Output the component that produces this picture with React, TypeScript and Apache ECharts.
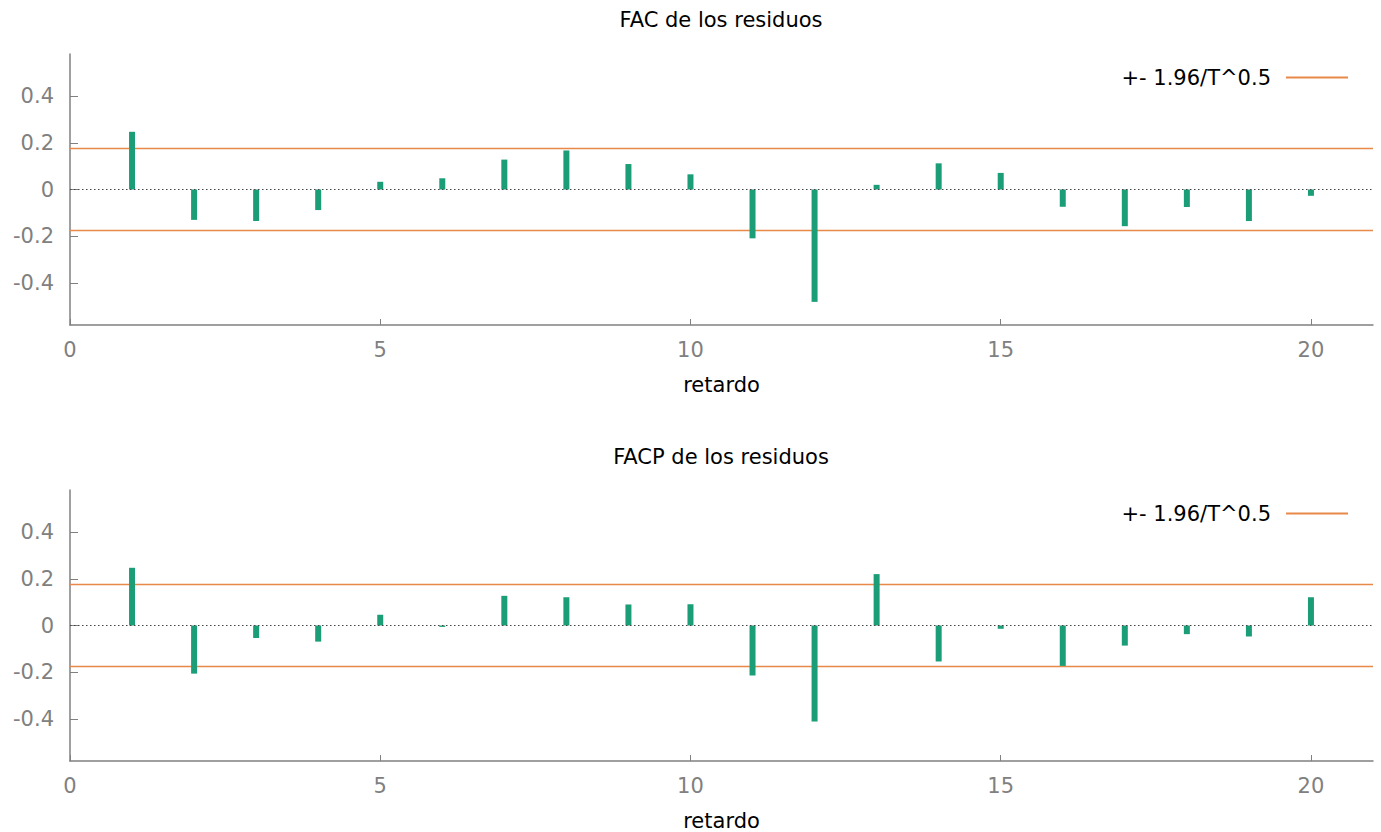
import React, { useEffect, useRef } from "react";
import * as echarts from "echarts";

const lags = [1, 2, 3, 4, 5, 6, 7, 8, 9, 10, 11, 12, 13, 14, 15, 16, 17, 18, 19, 20];
const facValues = [0.247, -0.130, -0.135, -0.088, 0.033, 0.048, 0.128, 0.167, 0.109, 0.065, -0.209, -0.481, 0.020, 0.112, 0.071, -0.074, -0.157, -0.075, -0.135, -0.027];
const facpValues = [0.247, -0.206, -0.053, -0.069, 0.046, -0.006, 0.127, 0.121, 0.090, 0.091, -0.214, -0.411, 0.220, -0.154, -0.014, -0.173, -0.086, -0.037, -0.047, 0.121];
const band = 0.175;
const titles = ["FAC de los residuos", "FACP de los residuos"];
const xName = "retardo";
const bandName = "+- 1.96/T^0.5";
const xTicks = [0, 5, 10, 15, 20];
const yTicks = [-0.4, -0.2, 0, 0.2, 0.4];

const FONT = "DejaVu Sans";
const FS = 21;
const GREEN = "#1b9e77";
const ORANGE = "#e8894a";
const GRAY = "#808080";

export default function App() {
  const ref = useRef<HTMLDivElement>(null);
  useEffect(() => {
    if (!ref.current) return;
    const chart = echarts.init(ref.current, undefined, { renderer: "svg" });
    const grids = [
      { left: 70, right: 8, top: 54, height: 271 },
      { left: 70, right: 8, top: 490, height: 272 },
    ];
    const xAxes = grids.map((_, i) => ({
      type: "value",
      gridIndex: i,
      min: 0,
      max: 21,
      name: xName,
      nameLocation: "middle",
      nameGap: 49,
      nameTextStyle: { fontFamily: FONT, fontSize: FS, color: "#000" },
      axisLine: { show: true, onZero: false, lineStyle: { color: GRAY, width: 1.5 } },
      axisTick: { show: true, inside: true, length: 6, customValues: xTicks, lineStyle: { color: GRAY } },
      axisLabel: { customValues: xTicks, margin: 14, fontFamily: FONT, fontSize: FS, color: GRAY },
      splitLine: { show: false },
    }));
    const yAxes = grids.map((_, i) => ({
      type: "value",
      gridIndex: i,
      min: -0.58,
      max: 0.58,
      axisLine: { show: true, lineStyle: { color: GRAY, width: 1.5 } },
      axisTick: { show: true, inside: true, length: 8, customValues: yTicks, lineStyle: { color: GRAY } },
      axisLabel: {
        customValues: yTicks,
        margin: 16,
        fontFamily: FONT,
        fontSize: FS,
        color: GRAY,
        formatter: (v: number) => (Math.abs(v) < 1e-9 ? "0" : String(Math.round(v * 10) / 10)),
      },
      splitLine: { show: false },
    }));
    const datasets = [facValues, facpValues];
    const series: any[] = [];
    datasets.forEach((vals, i) => {
      series.push({
        type: "bar",
        name: "values" + i,
        xAxisIndex: i,
        yAxisIndex: i,
        barWidth: 6,
        itemStyle: { color: GREEN },
        data: lags.map((l, k) => [l, vals[k]]),
        markLine: {
          silent: true,
          symbol: "none",
          label: { show: false },
          lineStyle: { color: "#444", type: [1.5, 2.5], width: 1.2 },
          data: [{ yAxis: 0 }],
        },
        z: 3,
      });
      [band, -band].forEach((b) => {
        series.push({
          type: "line",
          name: bandName,
          xAxisIndex: i,
          yAxisIndex: i,
          showSymbol: false,
          symbol: "none",
          lineStyle: { color: ORANGE, width: 1.5 },
          itemStyle: { color: ORANGE },
          data: [[0, b], [21, b]],
          z: 2,
        });
      });
    });
    const legends = [62, 498].map((top) => ({
      show: true,
      right: 28,
      top,
      align: "right",
      itemWidth: 62,
      itemHeight: 2,
      icon: "rect",
      data: [{ name: bandName, icon: "rect", itemStyle: { color: ORANGE } }],
      textStyle: { fontFamily: FONT, fontSize: FS, color: "#000", padding: [0, 10, 0, 0] },
    }));
    chart.setOption({
      animation: false,
      backgroundColor: "#fff",
      grid: grids,
      xAxis: xAxes,
      yAxis: yAxes,
      legend: legends,
      series,
      graphic: [
        { type: "text", x: 721, y: 20, style: { text: titles[0], fontFamily: FONT, fontSize: FS, fill: "#000", textAlign: "center", textVerticalAlign: "middle" } },
        { type: "text", x: 721, y: 457, style: { text: titles[1], fontFamily: FONT, fontSize: FS, fill: "#000", textAlign: "center", textVerticalAlign: "middle" } },
      ],
    });
    return () => chart.dispose();
  }, []);
  return <div ref={ref} style={{ position: "fixed", left: 0, top: 0, width: 1381, height: 832 }} />;
}
